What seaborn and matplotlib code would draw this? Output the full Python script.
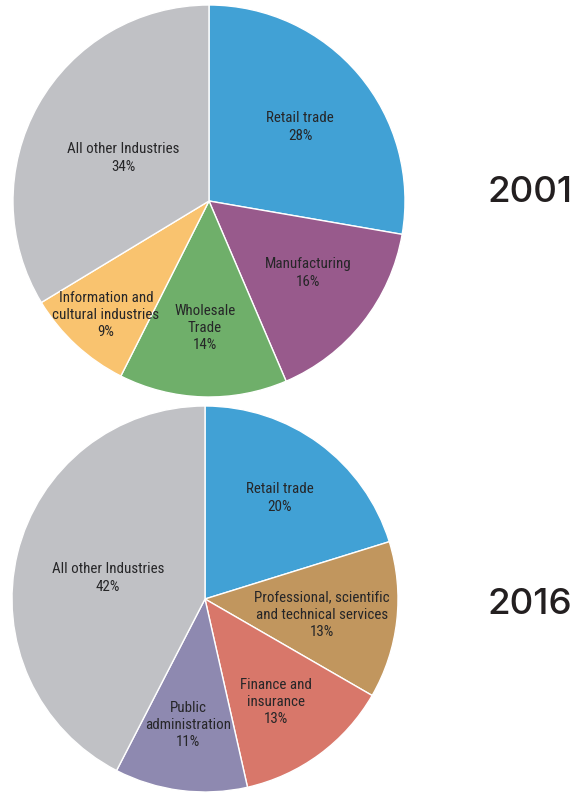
import matplotlib
matplotlib.use("Agg")
import matplotlib.pyplot as plt
from matplotlib import font_manager
import seaborn as sns

sns.set_theme(style="white")

# ---- data ----
labels_2001 = ["Retail trade", "Manufacturing", "Wholesale\nTrade",
               "Information and\ncultural industries", "All other Industries"]
values_2001 = [28, 16, 14, 9, 34]
colors_2001 = ["#41A1D5", "#985A8C", "#6FAF6A", "#F9C36F", "#C0C1C5"]

labels_2016 = ["Retail trade", "Professional, scientific\nand technical services",
               "Finance and\ninsurance", "Public\nadministration", "All other Industries"]
values_2016 = [20, 13, 13, 11, 42]
colors_2016 = ["#41A1D5", "#C1965E", "#D8776A", "#8E89B0", "#C0C1C5"]

years = ["2001", "2016"]

names = {f.name for f in font_manager.fontManager.ttflist}
label_font = None
for cand in ["Roboto Condensed", "Liberation Sans Narrow", "Open Sans Condensed", "DejaVu Sans"]:
    if cand in names:
        label_font = cand
        break
year_font = "Inter" if "Inter" in names else "DejaVu Sans"

W, H = 588, 793
fig = plt.figure(figsize=(W / 100, H / 100), dpi=100)
fig.patch.set_facecolor("white")

# pixel geometry of each pie: center x, center y, radius
geom = [(209, 201, 196), (205, 599, 193)]
# label pixel positions
label_pos = [
    [(300, 127), (308, 273), (205, 328), (106, 315), (123, 158)],
    [(280, 498), (322, 615), (276, 702), (188, 725), (108, 578)],
]
year_pos = [(530, 193), (530, 604)]

datasets = [(labels_2001, values_2001, colors_2001), (labels_2016, values_2016, colors_2016)]

for (cx, cy, r), (labs, vals, cols), lpos, yr, ypos in zip(geom, datasets, label_pos, years, year_pos):
    ax = fig.add_axes([(cx - r) / W, (H - cy - r) / H, 2 * r / W, 2 * r / H])
    ax.pie(vals, colors=cols, startangle=90, counterclock=False,
           wedgeprops=dict(edgecolor="white", linewidth=1.0))
    ax.set_xlim(-1, 1)
    ax.set_ylim(-1, 1)
    ax.set_aspect("equal")
    ax.axis("off")
    for lab, v, (px, py) in zip(labs, vals, lpos):
        ax.text((px - cx) / r, (cy - py) / r, f"{lab}\n{v}%", ha="center", va="center",
                fontsize=10.8, family=label_font, color="#262628", linespacing=1.3,
                fontweight="normal")
    fig.text(ypos[0] / W, 1 - ypos[1] / H, yr, ha="center", va="center",
             fontsize=26.5, family=year_font, color="#231F20", fontweight="medium")

fig.savefig("out.png", dpi=100, facecolor="white")
